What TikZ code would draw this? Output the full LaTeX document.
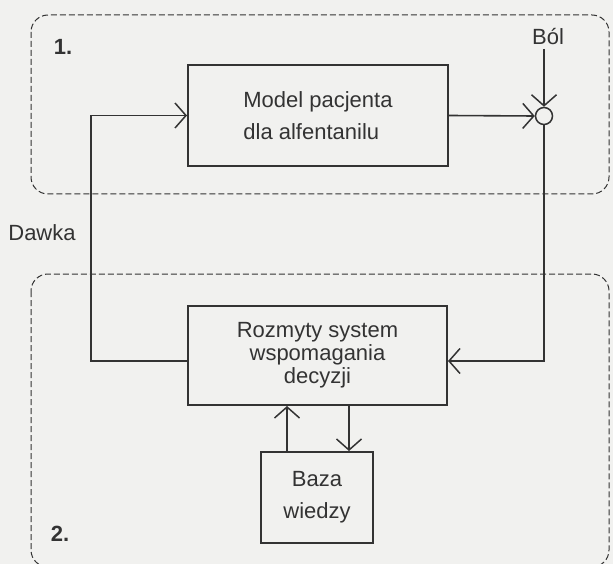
\documentclass[tikz,border=0pt]{standalone}
\usepackage{fontspec}
\setmainfont{Liberation Sans}
\usetikzlibrary{arrows.meta}

\definecolor{ink}{HTML}{333333}
\definecolor{paper}{HTML}{F1F1EF}
\tikzstyle{px}=[x=1pt,y=-1pt]
\tikzstyle{blok}=[draw=ink,line width=2pt,inner sep=0pt,font=\fontsize{22}{32}\selectfont,text=ink]
\tikzstyle{strzalka}=[draw=ink,line width=1.6pt,-{Straight Barb[length=11pt,width=25pt,line width=1.5pt]}]
\tikzstyle{obszar}=[draw=ink,line width=1pt,dash pattern=on 6pt off 3pt,rounded corners=17pt]
\tikzstyle{etykieta}=[text=ink,font=\fontsize{22}{26}\selectfont,inner sep=0pt]

\begin{document}
\begin{tikzpicture}[px]
	\fill[paper] (0,0) rectangle (613,564);
	\useasboundingbox (0,0) rectangle (613,564);
%
	\draw[obszar] (31,15) rectangle (609,194);
	\draw[obszar] (31,274) rectangle (609,567);
	\node[etykieta] (nr1) at (63,47) {\textbf{1.}};
	\node[etykieta] (nr2) at (60,534) {\textbf{2.}};
%
	\node[blok,minimum width=260pt,minimum height=101pt,align=left] (model) at (318,115.5)
					{Model pacjenta\\dla alfentanilu};
	\node[blok,minimum width=259pt,minimum height=99pt,align=center,
			font=\fontsize{22}{23}\selectfont] (system) at (317.5,355.5)
					{Rozmyty system\\wspomagania\\decyzji};
	\node[blok,minimum width=112pt,minimum height=91pt,align=center] (baza) at (317,497.5)
					{Baza\\wiedzy};
	\node[draw=ink,line width=1.5pt,circle,minimum size=17pt,inner sep=0pt] (suma) at (544,116) {};
%
	\node[etykieta] (bol) at (548,37) {Ból};
	\node[etykieta] (dawka) at (42,233) {Dawka};
	\coordinate (bolstart) at (544,49);
	\coordinate (lewy) at (91,361);
	\coordinate (prawy) at (544,361);
%
	\draw[strzalka] (model.east) -- (suma.west);
	\draw[strzalka] (bolstart) -- (suma.north);
	\draw[strzalka] (suma.south) -- (prawy) -- (system.east |- prawy);
	\draw[strzalka] (system.west |- lewy) -- (lewy) -- (lewy |- model.west) -- (model.west);
	\draw[strzalka] (287,0 |- baza.north) -- (287,0 |- system.south);
	\draw[strzalka] (349,0 |- system.south) -- (349,0 |- baza.north);
\end{tikzpicture}
\end{document}
